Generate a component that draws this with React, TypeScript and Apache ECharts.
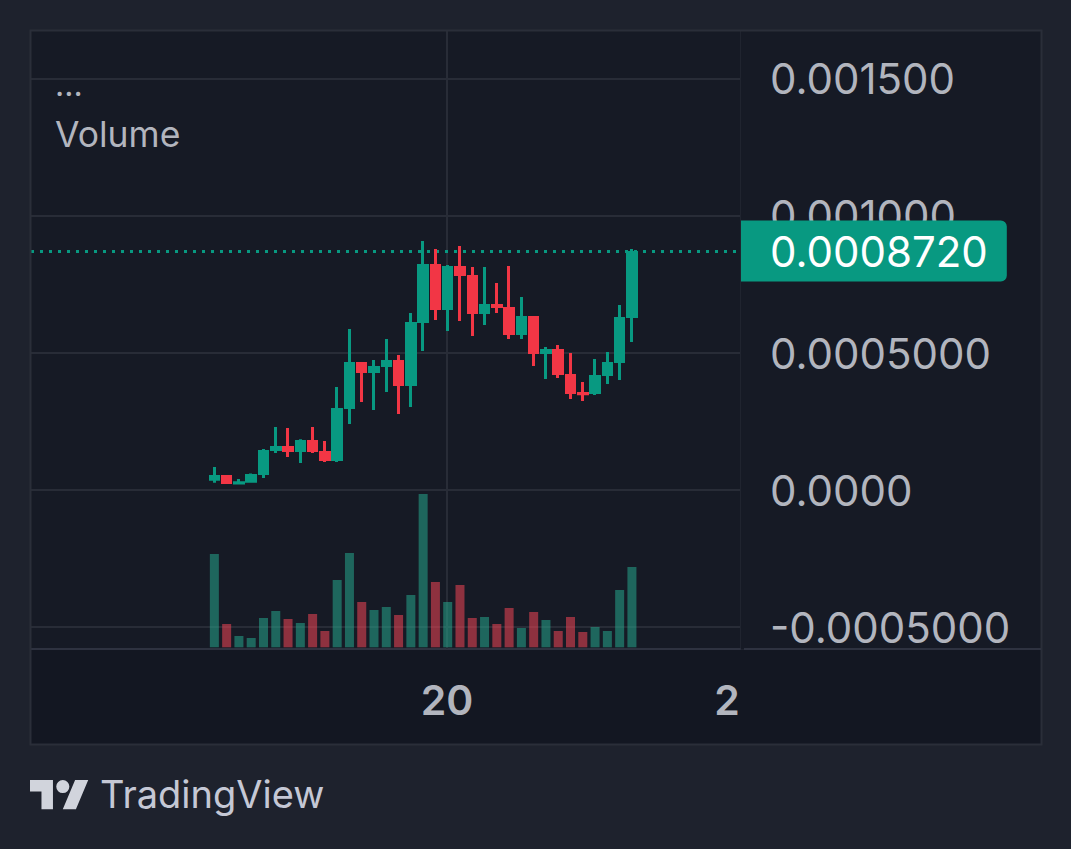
import React, { useEffect, useRef } from "react";
import * as echarts from "echarts";

// prices are in millionths, volumes in arbitrary units
const opens = [34.1, 54.7, 21.9, 26.8, 54.7, 142.3, 160.6, 138.7, 182.5, 142.3, 105.8, 295.6, 467.1, 427, 448.9, 474.4, 379.6, 609.5, 824.8, 656.9, 817.5, 784.7, 642.3, 678.8, 667.9, 565.7, 635, 496.3, 514.6, 423.4, 357.7, 350.4, 416, 463.5, 627.7];
const closes = [54.7, 21.9, 30.4, 58.4, 146, 160.6, 138.7, 182.5, 138.7, 105.8, 299.3, 467.1, 427, 452.5, 474.4, 379.6, 613.1, 824.8, 656.9, 817.5, 781, 642.3, 678.8, 664.2, 565.7, 635, 496.3, 514.6, 419.7, 350.4, 346.7, 419.7, 467.1, 631.4, 872];
const lows = [26.8, 21.9, 21.9, 26.8, 43.8, 135, 120.4, 98.5, 135, 102.2, 102.2, 240.9, 321.2, 292, 357.7, 277.4, 302.9, 507.3, 620.4, 580.3, 616.8, 562, 602.2, 646, 551.1, 551.1, 452.5, 405.1, 408.8, 332.1, 324.8, 346.7, 386.9, 401.5, 540.1];
const highs = [83.9, 54.7, 40.1, 60.8, 149.6, 229.9, 226.3, 184.9, 229.9, 178.8, 375.9, 587.6, 467.1, 474.4, 551.1, 492.7, 646, 908.8, 879.6, 821.2, 890.5, 813.9, 813.9, 755.5, 817.5, 704.4, 635, 521.9, 529.2, 500, 394.2, 478.1, 503.6, 675.2, 880];
const volumes = [933, 233, 113, 93, 293, 363, 283, 243, 333, 163, 673, 943, 453, 373, 403, 323, 523, 1533, 653, 453, 623, 293, 303, 233, 393, 193, 353, 273, 163, 303, 153, 203, 163, 573, 803];

const priceTicks = [-0.0005, 0, 0.0005, 0.001, 0.0015];
const priceLabels = ["-0.0005000", "0.0000", "0.0005000", "0.001000", "0.001500"];
const timeTicks = [18.95, 41.75];
const timeLabels = ["20", "2"];
const lastPrice = 0.000872;

const UP = "#089981";
const DOWN = "#F23645";
const LINE = "#282C37";
const TEXT = "#B2B5BE";
const FONT = "Inter";

const LOGO = "M14 22H7V11H0V4h14v18zM28 22h-8l7.5-18h8L28 22zM24 8a4 4 0 1 1-8 0a4 4 0 1 1 8 0z";
echarts.graphic.registerShape("tvLogo", echarts.graphic.extendPath(LOGO, {}) as any);

const isUp = (i: number) => closes[i] >= opens[i];

// the candle border is 3px wide and centred on the body edge, so pull the body in by half of it
const INSET = 5.5;
const bodyEdges = (i: number) => {
  const mid = (opens[i] + closes[i]) / 2;
  const half = Math.max(Math.abs(closes[i] - opens[i]) / 2 - INSET, 0.5);
  return isUp(i) ? [mid - half, mid + half] : [mid + half, mid - half];
};

const App = () => {
  const chartRef = useRef<HTMLDivElement>(null);

  useEffect(() => {
    document.body.style.margin = "0";
    const chart = echarts.init(chartRef.current as HTMLDivElement, undefined, { renderer: "svg" });

    const option = {
      animation: false,
      backgroundColor: "#1E222D",
      textStyle: { fontFamily: FONT },
      grid: {
        left: 31,
        top: 31,
        width: 709,
        height: 618,
        show: true,
        backgroundColor: "#161A25",
        borderWidth: 0,
      },
      xAxis: {
        type: "value",
        min: -14.93,
        max: 42.8,
        axisLine: { show: true, onZero: false, lineStyle: { color: "#2E3240", width: 2 } },
        axisTick: { show: false, customValues: timeTicks },
        splitLine: { show: false },
        axisLabel: {
          customValues: timeTicks,
          margin: 30,
          color: TEXT,
          fontFamily: FONT,
          fontSize: 41,
          fontWeight: 600,
          formatter: (v: number) => timeLabels[timeTicks.indexOf(v)] ?? "",
        },
      },
      yAxis: [
        {
          type: "value",
          position: "right",
          min: -0.00058,
          max: 0.001675,
          axisLine: { show: true, onZero: false, lineStyle: { color: "#20242F", width: 1 } },
          axisTick: { show: false, customValues: priceTicks },
          splitLine: { show: true, lineStyle: { color: LINE, width: 2 } },
          axisLabel: {
            customValues: priceTicks,
            margin: 30,
            color: TEXT,
            fontFamily: FONT,
            fontSize: 42,
            formatter: (v: number) => priceLabels[priceTicks.indexOf(v)] ?? "",
          },
        },
        {
          type: "value",
          min: -17,
          max: 6163,
          show: false,
          splitLine: { show: false },
        },
      ],
      graphic: [
        { type: "rect", z: -10, shape: { x: 741, y: 31, width: 300, height: 618 }, style: { fill: "#161A25" } },
        { type: "rect", z: -10, shape: { x: 31, y: 650, width: 1010, height: 94 }, style: { fill: "#131722" } },
        { type: "rect", z: 20, shape: { x: 30.5, y: 30.5, width: 1011, height: 714 }, style: { fill: "none", stroke: "#2A2E39", lineWidth: 2 } },
        { type: "line", z: 20, shape: { x1: 744, y1: 649, x2: 1041, y2: 649 }, style: { stroke: "#2E3240", lineWidth: 2 } },
        { type: "text", z: 20, x: 55, y: 68, style: { text: "...", fill: TEXT, font: `400 32px ${FONT}` } },
        { type: "text", z: 20, x: 55, y: 116, style: { text: "Volume", fill: TEXT, font: `400 35.5px ${FONT}` } },
        { type: "tvLogo", z: 20, x: 30, y: 773.5, scaleX: 1.64, scaleY: 1.63, style: { fill: "#D1D4DC" } },
        { type: "text", z: 20, x: 100, y: 775, style: { text: "TradingView", fill: "#C5C8D5", font: `400 38px ${FONT}` } },
      ],
      series: [
        {
          // carries the time grid line and the dotted last price line, under the bars
          type: "line",
          data: [],
          z: 1,
          silent: true,
          markLine: {
            z: 1,
            silent: true,
            symbol: "none",
            precision: 7,
            data: [
              {
                xAxis: timeTicks[0],
                label: { show: false },
                lineStyle: { color: LINE, width: 2, type: "solid" },
              },
              {
                yAxis: lastPrice,
                lineStyle: { color: UP, width: 3, type: [3, 6] },
                label: {
                  show: true,
                  position: "end",
                  distance: 1,
                  formatter: "0.0008720",
                  color: "#FFFFFF",
                  fontFamily: FONT,
                  fontSize: 42,
                  backgroundColor: UP,
                  borderRadius: [0, 6, 6, 0],
                  padding: [10, 19, 9, 29],
                },
              },
            ],
          },
        },
        {
          type: "bar",
          yAxisIndex: 1,
          barWidth: 9,
          z: 2,
          data: volumes.map((v, i) => ({
            value: [i, v],
            itemStyle: { color: isUp(i) ? "rgba(38,166,140,0.55)" : "rgba(242,70,85,0.55)" },
          })),
        },
        {
          type: "candlestick",
          barWidth: 9,
          z: 3,
          encode: { x: 0, y: [1, 2, 3, 4] },
          itemStyle: {
            color: UP,
            color0: DOWN,
            borderColor: UP,
            borderColor0: DOWN,
            borderWidth: 3,
          },
          data: opens.map((_, i) => {
            const [o, c] = bodyEdges(i);
            return [i, o / 1e6, c / 1e6, lows[i] / 1e6, highs[i] / 1e6];
          }),
        },
      ],
    };
    chart.setOption(option as any);

    return () => {
      chart.dispose();
    };
  }, []);

  return <div ref={chartRef} style={{ position: "absolute", left: 0, top: 0, width: 1071, height: 849 }} />;
};

export default App;
